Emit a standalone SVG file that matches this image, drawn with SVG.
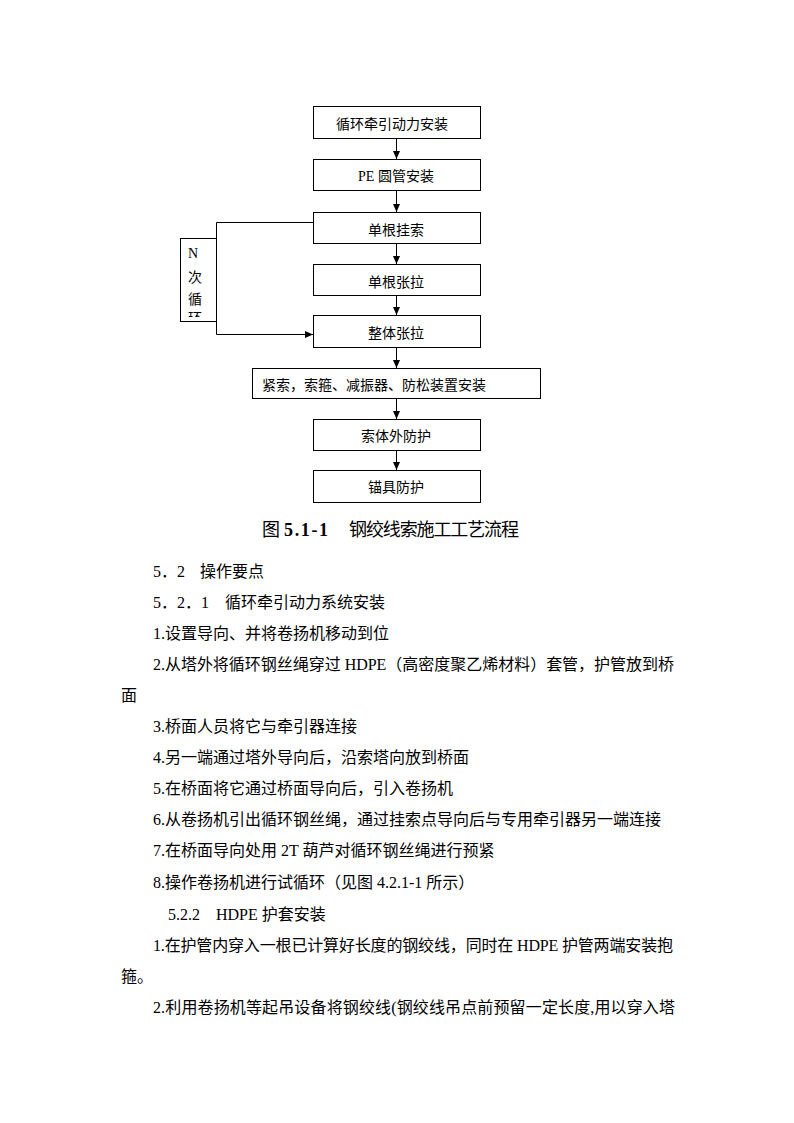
<svg xmlns="http://www.w3.org/2000/svg" width="794" height="1123" viewBox="0 0 794 1123">
<style>
.box{fill:#fff;stroke:#000;stroke-width:1}
.bt{font-family:"Liberation Serif","Noto Sans CJK SC",serif;font-size:14px;fill:#000}
.c{text-anchor:middle}
.body{font-family:"Liberation Serif","Noto Sans CJK SC",serif;font-size:16px;fill:#000}
.cap{font-family:"Liberation Serif","Noto Sans CJK SC",serif;font-size:18px;fill:#000}
.ln{fill:none;stroke:#000;stroke-width:1}
</style>
<defs>
<marker id="ah" markerUnits="userSpaceOnUse" markerWidth="9" markerHeight="8" refX="8" refY="3.5" orient="auto">
<path d="M0,0 L8,3.5 L0,7 z" fill="#000"/>
</marker>
<clipPath id="nclip"><rect x="181" y="239" width="35" height="78"/></clipPath>
</defs>
<rect width="794" height="1123" fill="#fff"/>

<g id="connectors">
<line class="ln" x1="396.5" y1="138" x2="396.5" y2="159" marker-end="url(#ah)"/>
<line class="ln" x1="396.5" y1="190" x2="396.5" y2="212" marker-end="url(#ah)"/>
<line class="ln" x1="396.5" y1="243" x2="396.5" y2="264" marker-end="url(#ah)"/>
<line class="ln" x1="396.5" y1="295" x2="396.5" y2="315" marker-end="url(#ah)"/>
<line class="ln" x1="396.5" y1="347" x2="396.5" y2="368" marker-end="url(#ah)"/>
<line class="ln" x1="396.5" y1="398" x2="396.5" y2="419" marker-end="url(#ah)"/>
<line class="ln" x1="396.5" y1="450" x2="396.5" y2="470" marker-end="url(#ah)"/>
<polyline class="ln" points="313,222.5 216.5,222.5 216.5,334.5 313,334.5" marker-end="url(#ah)"/>
</g>

<g id="n1"><rect class="box" x="313.5" y="106.5" width="167" height="32"/><text class="bt c" x="392" y="129">循环牵引动力安装</text></g>
<g id="n2"><rect class="box" x="313.5" y="159.5" width="167" height="31"/><text class="bt c" x="396" y="181">PE 圆管安装</text></g>
<g id="n3"><rect class="box" x="313.5" y="212.5" width="167" height="31"/><text class="bt c" x="396" y="235">单根挂索</text></g>
<g id="n4"><rect class="box" x="313.5" y="264.5" width="167" height="31"/><text class="bt c" x="396" y="287">单根张拉</text></g>
<g id="n5"><rect class="box" x="313.5" y="315.5" width="167" height="32"/><text class="bt c" x="396" y="338">整体张拉</text></g>
<g id="n6"><rect class="box" x="252.5" y="368.5" width="288" height="30"/><text class="bt" x="262" y="390">紧索，索箍、减振器、防松装置安装</text></g>
<g id="n7"><rect class="box" x="313.5" y="419.5" width="167" height="31"/><text class="bt c" x="396" y="441">索体外防护</text></g>
<g id="n8"><rect class="box" x="313.5" y="470.5" width="167" height="32"/><text class="bt c" x="396" y="492">锚具防护</text></g>

<g id="nloop">
<rect class="box" x="180.5" y="238.5" width="36" height="83"/>
<g clip-path="url(#nclip)">
<text class="bt" x="188" y="258">N</text>
<text class="bt" x="188" y="282">次</text>
<text class="bt" x="188" y="304">循</text>
<text class="bt" x="188" y="323">环</text>
</g>
</g>

<g id="caption">
<text class="cap" y="536"><tspan x="262">图</tspan><tspan x="284" font-weight="bold" textLength="44" lengthAdjust="spacing">5.1-1</tspan><tspan x="349" textLength="170" lengthAdjust="spacing">钢绞线索施工工艺流程</tspan></text>
</g>

<g id="body">
<text class="body" y="577"><tspan x="153">5．2</tspan><tspan x="200">操作要点</tspan></text>
<text class="body" y="608"><tspan x="153">5．2．1</tspan><tspan x="225">循环牵引动力系统安装</tspan></text>
<text class="body" x="153" y="639">1.设置导向、并将卷扬机移动到位</text>
<text class="body" x="153" y="670" textLength="521" lengthAdjust="spacing">2.从塔外将循环钢丝绳穿过 HDPE（高密度聚乙烯材料）套管，护管放到桥</text>
<text class="body" x="121" y="701">面</text>
<text class="body" x="153" y="732">3.桥面人员将它与牵引器连接</text>
<text class="body" x="153" y="763">4.另一端通过塔外导向后，沿索塔向放到桥面</text>
<text class="body" x="153" y="794">5.在桥面将它通过桥面导向后，引入卷扬机</text>
<text class="body" x="153" y="825">6.从卷扬机引出循环钢丝绳，通过挂索点导向后与专用牵引器另一端连接</text>
<text class="body" x="153" y="856">7.在桥面导向处用 2T 葫芦对循环钢丝绳进行预紧</text>
<text class="body" x="153" y="888">8.操作卷扬机进行试循环（见图 4.2.1-1 所示）</text>
<text class="body" y="920"><tspan x="168">5.2.2</tspan><tspan x="216">HDPE 护套安装</tspan></text>
<text class="body" x="153" y="951" textLength="520" lengthAdjust="spacing">1.在护管内穿入一根已计算好长度的钢绞线，同时在 HDPE 护管两端安装抱</text>
<text class="body" x="121" y="982">箍。</text>
<text class="body" x="153" y="1013" textLength="522" lengthAdjust="spacing">2.利用卷扬机等起吊设备将钢绞线(钢绞线吊点前预留一定长度,用以穿入塔</text>
</g>
</svg>
